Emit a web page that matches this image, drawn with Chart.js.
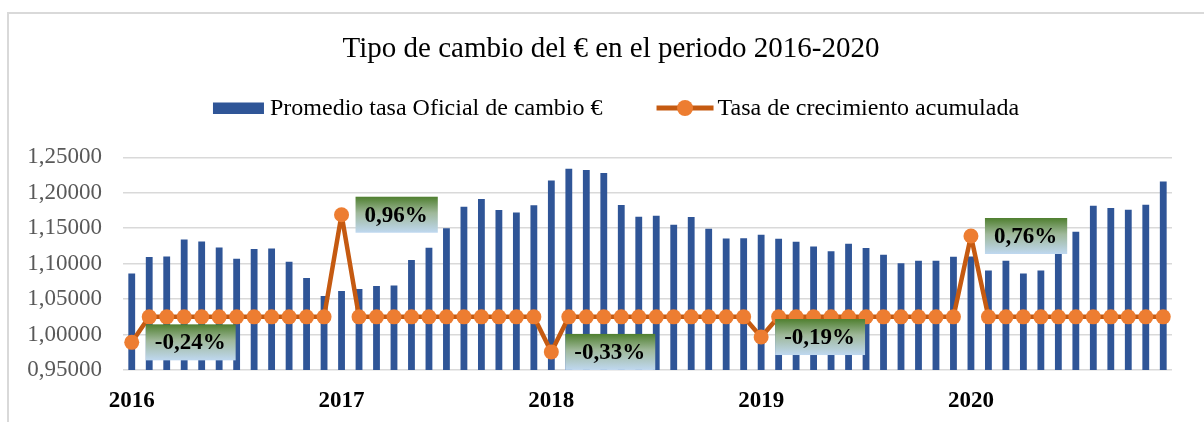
<!DOCTYPE html>
<html>
<head>
<meta charset="utf-8">
<script src="https://cdn.jsdelivr.net/npm/chart.js@4.4.1/dist/chart.umd.min.js"></script>
<style>
    html, body { margin: 0; padding: 0; background: #fff; overflow: hidden; }
    #wrap { position: relative; width: 1204px; height: 422px; }
    #frame { position: absolute; left: 7px; top: 12px; width: 1300px; height: 500px; border: 2px solid #d9d9d9; box-sizing: border-box; }
    canvas { position: absolute; left: 0; top: 0; }
</style>
</head>
<body>
<div id="wrap">
    <div id="frame"></div>
    <canvas id="tipoCambioChart" width="1204" height="422"></canvas>
</div>
<script>
// años y meses (categorías)
const years = ['2016', '2017', '2018', '2019', '2020'];
const months = ['ene', 'feb', 'mar', 'abr', 'may', 'jun', 'jul', 'ago', 'sep', 'oct', 'nov', 'dic'];

// promedio mensual del tipo de cambio
const promedioTasa = [
    1.0860, 1.1093, 1.1100, 1.1339, 1.1311, 1.1229, 1.1069, 1.1206, 1.1212, 1.1026, 1.0799, 1.0543,
    1.0616, 1.0644, 1.0686, 1.0692, 1.1052, 1.1223, 1.1500, 1.1802, 1.1912, 1.1756, 1.1722, 1.1825,
    1.2174, 1.2339, 1.2322, 1.2278, 1.1826, 1.1661, 1.1675, 1.1548, 1.1657, 1.1491, 1.1355, 1.1360,
    1.1407, 1.1350, 1.1308, 1.1242, 1.1176, 1.1280, 1.1219, 1.1124, 1.1007, 1.1040, 1.1040, 1.1096,
    1.1100, 1.0903, 1.1040, 1.0860, 1.0903, 1.1255, 1.1449, 1.1816, 1.1784, 1.1760, 1.1830, 1.2160
];

// tasa de crecimiento acumulada (%)
const crecimiento = [
    -0.24, 0, 0, 0, 0, 0, 0, 0, 0, 0, 0, 0,
    0.96, 0, 0, 0, 0, 0, 0, 0, 0, 0, 0, 0,
    -0.33, 0, 0, 0, 0, 0, 0, 0, 0, 0, 0, 0,
    -0.19, 0, 0, 0, 0, 0, 0, 0, 0, 0, 0, 0,
    0.76, 0, 0, 0, 0, 0, 0, 0, 0, 0, 0, 0
];

const labels = [];
years.forEach(y => months.forEach(m => labels.push(m + '-' + y.slice(2))));

const serif = '"Liberation Serif", "Times New Roman", serif';

// leyenda dibujada a mano (barra + línea con punto)
const leyendaPlugin = {
    id: 'leyenda',
    afterDraw(chart) {
        const ctx = chart.ctx;
        const t1 = chart.data.datasets[1].label;
        const t2 = chart.data.datasets[0].label;
        ctx.save();
        ctx.font = '24px ' + serif;
        ctx.textBaseline = 'middle';
        ctx.textAlign = 'left';
        const w1 = ctx.measureText(t1).width;
        const w2 = ctx.measureText(t2).width;
        const total = 51 + 6 + w1 + 54 + 57 + 4 + w2;
        let x = (chart.width + 18) / 2 + 5 - total / 2;
        const y = 108;

        ctx.fillStyle = '#2f5597';
        ctx.fillRect(x, y - 5.5, 51, 11.5);
        ctx.fillStyle = '#000';
        ctx.fillText(t1, x + 57, y + 0.5);

        const x2 = x + 51 + 6 + w1 + 54;
        ctx.strokeStyle = '#c55a11';
        ctx.lineWidth = 5;
        ctx.beginPath();
        ctx.moveTo(x2, y);
        ctx.lineTo(x2 + 57, y);
        ctx.stroke();
        ctx.fillStyle = '#ed7d31';
        ctx.beginPath();
        ctx.arc(x2 + 28.5, y, 8, 0, Math.PI * 2);
        ctx.fill();
        ctx.fillStyle = '#000';
        ctx.fillText(t2, x2 + 61, y + 0.5);
        ctx.restore();
    }
};

// etiquetas con degradado para los valores distintos de cero
const etiquetasPlugin = {
    id: 'etiquetas',
    afterDatasetsDraw(chart) {
        const meta = chart.getDatasetMeta(0);
        const ctx = chart.ctx;
        ctx.save();
        ctx.font = 'bold 23px ' + serif;
        ctx.textBaseline = 'middle';
        ctx.textAlign = 'left';
        chart.data.datasets[0].data.forEach((v, i) => {
            if (v === 0) return;
            const p = meta.data[i];
            const txt = v.toFixed(2).replace('.', ',') + '%';
            const w = ctx.measureText(txt).width + 19;
            const h = 36;
            const x = p.x + 14, y = p.y - 18;
            const g = ctx.createLinearGradient(0, y, 0, y + h);
            g.addColorStop(0, '#4f7f2f');
            g.addColorStop(0.45, '#9fb89a');
            g.addColorStop(1, '#bfd8f0');
            ctx.fillStyle = g;
            ctx.fillRect(x, y, w, h);
            ctx.fillStyle = '#000';
            ctx.fillText(txt, x + 9, y + h / 2 + 1);
        });
        ctx.restore();
    }
};

const ctx = document.getElementById('tipoCambioChart').getContext('2d');
new Chart(ctx, {
    data: {
        labels: labels,
        datasets: [{
            type: 'line',
            label: 'Tasa de crecimiento acumulada',
            data: crecimiento,
            yAxisID: 'y1',
            order: 0,
            borderColor: '#c55a11',
            borderWidth: 4.5,
            borderJoinStyle: 'round',
            pointRadius: 7.5,
            pointBorderWidth: 0,
            pointBackgroundColor: '#ed7d31',
            pointBorderColor: '#ed7d31',
            tension: 0
        }, {
            type: 'bar',
            label: 'Promedio tasa Oficial de cambio €',
            data: promedioTasa,
            yAxisID: 'y',
            order: 1,
            backgroundColor: '#2f5597',
            barPercentage: 0.39,
            categoryPercentage: 1
        }]
    },
    options: {
        responsive: false,
        animation: false,
        layout: { padding: { left: 18, right: 0, top: 0, bottom: 0 } },
        plugins: {
            legend: { display: false },
            tooltip: { enabled: false },
            title: {
                display: true,
                text: 'Tipo de cambio del € en el periodo 2016-2020',
                color: '#000',
                font: { family: serif, size: 29, weight: 'normal' },
                padding: { top: 32, bottom: 90.5 }
            }
        },
        scales: {
            x: {
                grid: { display: false },
                border: { display: false },
                ticks: {
                    autoSkip: false,
                    maxRotation: 0,
                    minRotation: 0,
                    padding: 9,
                    color: '#000',
                    font: { family: serif, size: 23, weight: 'bold' },
                    callback: (val, i) => i % 12 === 0 ? years[i / 12] : ''
                },
                afterFit: s => { s.height = 52; }
            },
            y: {
                position: 'left',
                min: 0.95,
                max: 1.25,
                grid: { color: '#d9d9d9', lineWidth: 1.5, drawTicks: false },
                border: { display: false },
                ticks: {
                    stepSize: 0.05,
                    padding: 21,
                    color: '#595959',
                    font: { family: serif, size: 23 },
                    callback: v => v.toFixed(5).replace('.', ',')
                },
                afterFit: s => { s.width = 105; }
            },
            y1: {
                position: 'right',
                min: -0.5,
                max: 1.5,
                grid: { display: false },
                border: { display: false },
                ticks: { display: false },
                afterFit: s => { s.width = 32; }
            }
        }
    },
    plugins: [leyendaPlugin, etiquetasPlugin]
});
</script>
</body>
</html>
